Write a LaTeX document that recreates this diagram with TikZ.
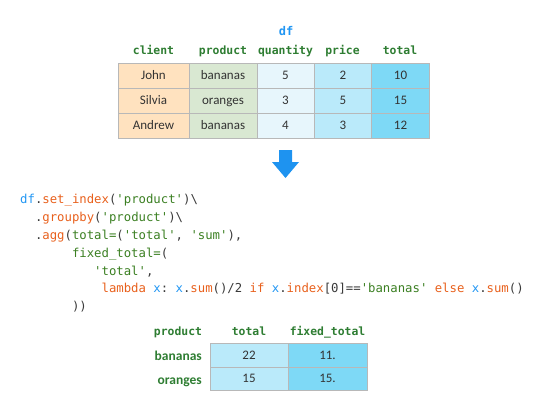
\documentclass[tikz,border=0pt]{standalone}
\usepackage{fontspec}
\setmainfont{Carlito}
\newfontfamily\codefont{DejaVu Sans Mono}
\definecolor{hdrgreen}{HTML}{2E7D32}
\definecolor{codegreen}{HTML}{3B7F22}
\definecolor{codeorange}{HTML}{E8601C}
\definecolor{codeblue}{HTML}{2196F3}
\definecolor{codedark}{HTML}{3A3A3A}
\definecolor{celltext}{HTML}{333333}
\definecolor{gridgray}{HTML}{B8B8B8}
\definecolor{fclient}{HTML}{FFE2BF}
\definecolor{fproduct}{HTML}{D9E8D2}
\definecolor{fquant}{HTML}{E7F6FC}
\definecolor{fprice}{HTML}{BAEAFA}
\definecolor{ftotal}{HTML}{7ED9F6}
\definecolor{arrowblue}{HTML}{1E93F0}
\newcommand{\q}{\textquotesingle}
\newcommand{\cg}[1]{\textcolor{codegreen}{#1}}
\newcommand{\co}[1]{\textcolor{codeorange}{#1}}
\newcommand{\cb}[1]{\textcolor{codeblue}{#1}}
\tikzset{
  cell/.style={draw=gridgray, line width=0.8pt, inner sep=0pt, font=\fontsize{13}{15}\selectfont,
    text=celltext, text height=9.5pt, text depth=1.1pt},
  hdr/.style={anchor=base, inner sep=0pt, font=\codefont\bfseries\fontsize{11.4}{13}\selectfont, text=hdrgreen},
  rowlbl/.style={anchor=base east, inner sep=0pt, font=\bfseries\fontsize{13.5}{15}\selectfont, text=hdrgreen},
  codeline/.style={anchor=base west, inner sep=0pt, font=\codefont\fontsize{12.3}{14}\selectfont\frenchspacing, text=codedark},
}
\begin{document}
\begin{tikzpicture}[x=1pt,y=-1pt]
\useasboundingbox (0,0) rectangle (552,412);
% title
\node[hdr, text=codeblue, font=\codefont\bfseries\fontsize{12}{14}\selectfont] (title) at (286,36) {df};
% headers table 1
\node[hdr] (h1) at (153.5,55) {client};
\node[hdr] (h2) at (223,55) {product};
\node[hdr] (h3) at (285.5,55) {quantity};
\node[hdr] (h4) at (342.5,55) {price};
\node[hdr] (h5) at (400,55) {total};
% table 1 cells
\foreach \r/\y/\a/\b/\c/\d/\e in {1/75.5/John/bananas/5/2/10, 2/100.5/Silvia/oranges/3/5/15, 3/125.5/Andrew/bananas/4/3/12}{
  \node[cell, fill=fclient, minimum width=71pt, minimum height=25pt] (c\r1) at (153.5,\y) {\a};
  \node[cell, fill=fproduct, minimum width=68pt, minimum height=25pt] (c\r2) at (223,\y) {\b};
  \node[cell, fill=fquant, minimum width=57pt, minimum height=25pt] (c\r3) at (285.5,\y) {\c};
  \node[cell, fill=fprice, minimum width=57pt, minimum height=25pt] (c\r4) at (343,\y) {\d};
  \node[cell, fill=ftotal, minimum width=58pt, minimum height=25pt] (c\r5) at (400.5,\y) {\e};
}
% arrow
\fill[arrowblue] (279,150) -- (292,150) -- (292,162) -- (299,162) -- (285.5,178) -- (272,162) -- (279,162) -- cycle;
% code
\node[codeline] (code1) at (20,203.5) {\cb{df}.\co{set\_index}(\cg{\q product\q})\textbackslash};
\node[codeline] (code2) at (34.8,221) {.\co{groupby}(\cg{\q product\q})\textbackslash};
\node[codeline] (code3) at (34.8,239) {.\co{agg}(\cg{total=}(\cg{\q total\q}, \cg{\q sum\q}),};
\node[codeline] (code4) at (71.8,257) {\cg{fixed\_total=}(};
\node[codeline] (code5) at (94,275) {\cg{\q total\q},};
\node[codeline] (code6) at (101.4,292.5) {\co{lambda} \cb{x}: \cb{x}.\co{sum}()/2 \co{if} \cb{x}.\co{index}[0]==\cg{\q bananas\q} \co{else} \cb{x}.\co{sum}()};
\node[codeline] (code7) at (71.8,310) {))};
% table 2 headers
\node[hdr] (g1) at (178,335) {product};
\node[hdr] (g2) at (249,335) {total};
\node[hdr] (g3) at (327.5,335) {fixed\_total};
% table 2 rows
\node[rowlbl] (r1) at (202,360) {bananas};
\node[rowlbl] (r2) at (202,384) {oranges};
\node[cell, fill=fprice, minimum width=78pt, minimum height=24pt] (d11) at (249,355) {22};
\node[cell, fill=ftotal, minimum width=79pt, minimum height=24pt] (d12) at (327.5,355) {11.};
\node[cell, fill=fprice, minimum width=78pt, minimum height=23pt] (d21) at (249,378.5) {15};
\node[cell, fill=ftotal, minimum width=79pt, minimum height=23pt] (d22) at (327.5,378.5) {15.};
\end{tikzpicture}
\end{document}
